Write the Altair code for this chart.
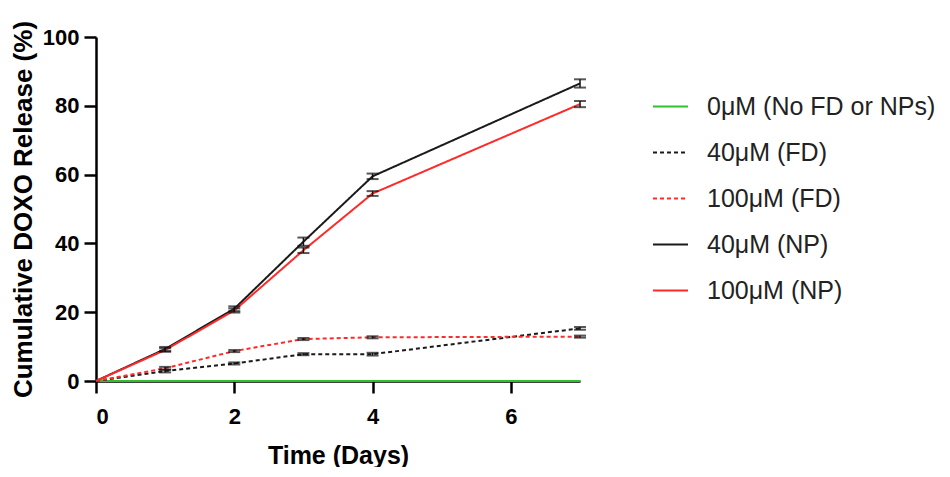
import altair as alt
import pandas as pd

days = [0, 1, 2, 3, 4, 7]
series_names = ["0μM (No FD or NPs)", "40μM (FD)", "100μM (FD)", "40μM (NP)", "100μM (NP)"]
ctrl = [0, 0, 0, 0, 0, 0]
fd40 = [0, 2.9, 5.1, 7.8, 7.8, 15.3]
fd100 = [0, 3.7, 8.7, 12.2, 12.7, 12.9]
np40 = [0, 9.3, 21.0, 40.5, 59.5, 86.5]
np100 = [0, 9.0, 20.5, 38.0, 54.5, 80.5]
ctrl_err = [0, 0, 0, 0, 0, 0]
fd40_err = [0, 0.4, 0.3, 0.3, 0.4, 0.4]
fd100_err = [0, 0.4, 0.3, 0.3, 0.3, 0.3]
np40_err = [0, 0.6, 0.7, 1.2, 0.8, 1.2]
np100_err = [0, 0.5, 0.6, 0.8, 0.7, 0.9]

colors = ["#2fbf2f", "#1a1a1a", "#ff2a2a", "#1a1a1a", "#ff2a2a"]
dashes = [[1, 0], [4, 3], [4, 3], [1, 0], [1, 0]]

rows = []
for name, vals, errs in zip(series_names,
                            [ctrl, fd40, fd100, np40, np100],
                            [ctrl_err, fd40_err, fd100_err, np40_err, np100_err]):
    for d, v, e in zip(days, vals, errs):
        rows.append({"series": name, "day": d, "value": v, "lo": v - e, "hi": v + e, "err": e})
df = pd.DataFrame(rows)

FONT = "Liberation Sans"

legend = alt.Legend(
    title=None, orient="none", legendX=556, legendY=51,
    symbolType="stroke", symbolSize=1225, symbolStrokeWidth=2,
    labelFontSize=25, labelFont=FONT, labelColor="#222222", labelOffset=18,
    rowPadding=14, padding=0, labelLimit=400,
)

x_enc = alt.X("day:Q", scale=alt.Scale(domain=[0, 7], nice=False),
              axis=alt.Axis(title="Time (Days)", values=[0, 2, 4, 6], format="d"))
y_scale = alt.Scale(domain=[0, 100], nice=False)

lines = alt.Chart(df).mark_line(strokeWidth=2).encode(
    x=x_enc,
    y=alt.Y("value:Q", scale=y_scale,
            axis=alt.Axis(title="Cumulative DOXO Release (%)", values=[0, 20, 40, 60, 80, 100], format="d")),
    color=alt.Color("series:N", scale=alt.Scale(domain=series_names, range=colors), legend=legend),
    strokeDash=alt.StrokeDash("series:N", scale=alt.Scale(domain=series_names, range=dashes), legend=legend),
    detail="series:N",
)

err_df = df[df["err"] > 0]
err_rule = alt.Chart(err_df).mark_rule(color="#111111", strokeWidth=1.5).encode(
    x="day:Q", y=alt.Y("lo:Q", scale=y_scale), y2="hi:Q")
cap_lo = alt.Chart(err_df).mark_tick(orient="horizontal", color="#111111", size=12, thickness=2).encode(
    x="day:Q", y=alt.Y("lo:Q", scale=y_scale))
cap_hi = alt.Chart(err_df).mark_tick(orient="horizontal", color="#111111", size=12, thickness=2).encode(
    x="day:Q", y=alt.Y("hi:Q", scale=y_scale))

chart = alt.layer(lines, err_rule, cap_lo, cap_hi).properties(
    width=484, height=344,
    autosize=alt.AutoSizeParams(type="none"),
    padding={"left": 88, "top": 29, "right": 360, "bottom": 86},
).configure_view(stroke=None).configure_axis(
    grid=False, domainColor="#000000", domainWidth=2.5, tickColor="#000000", tickWidth=2.5,
    tickSize=12, labelFont=FONT, labelFontSize=22, labelFontWeight="bold", labelColor="#000000",
    titleFont=FONT, titleFontWeight="bold", titleColor="#000000",
).configure_axisX(
    labelPadding=13, titleFontSize=25, titleY=82, titleBaseline="alphabetic",
).configure_axisY(
    labelPadding=5, titleFontSize=26, titleX=-65, titleBaseline="alphabetic",
)

chart.save("out.html", embed_options={"renderer": "svg", "actions": False})
